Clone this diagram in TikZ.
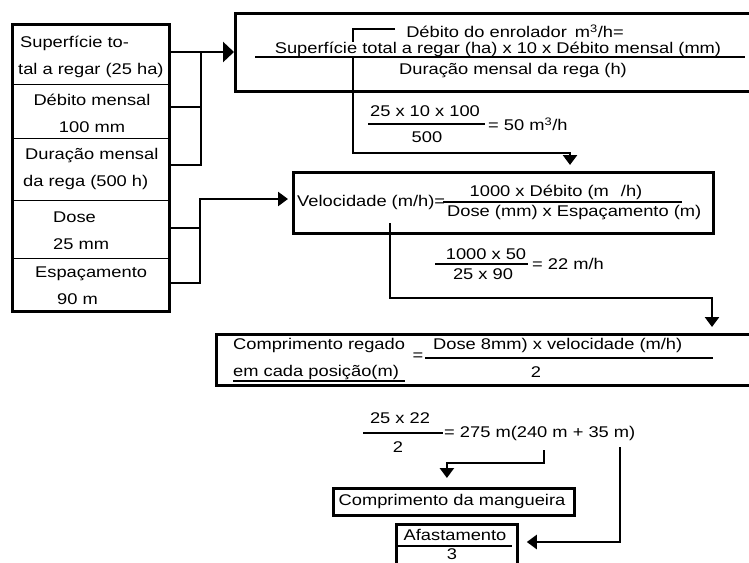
\documentclass[tikz,border=0pt]{standalone}
\usepackage{fontspec}
\setmainfont{Liberation Sans}[FakeStretch=1.18]
\usetikzlibrary{arrows.meta,calc}
\begin{document}
\begin{tikzpicture}[x=1pt,y=-1pt,
  every node/.style={font=\fontsize{15.5}{27}\selectfont, inner sep=0pt},
  thickbox/.style={draw, line width=2.8pt},
  thinbox/.style={draw, line width=1.2pt},
  conn/.style={line width=2.6pt},
  arr/.style={conn, -{Triangle[width=14pt,length=10pt]}},
  bigarr/.style={conn, -{Triangle[width=20pt,length=11pt]}},
  fbar/.style={line width=1.2pt},
]
\useasboundingbox (0,0) rectangle (749,562);
\clip (0,0) rectangle (749,562);

% ---- left column
\node[thinbox, anchor=north west, minimum width=157, minimum height=61] (r1) at (11,23) {};
\node[thinbox, anchor=north west, minimum width=157, minimum height=54] (r2) at (11,84) {};
\node[thinbox, anchor=north west, minimum width=157, minimum height=62] (r3) at (11,138) {};
\node[thinbox, anchor=north west, minimum width=157, minimum height=58] (r4) at (11,200) {};
\node[thinbox, anchor=north west, minimum width=157, minimum height=52] (r5) at (11,258) {};
\node[thickbox, anchor=north west, minimum width=157, minimum height=287] (col) at (11,23) {};

\node[anchor=west, align=left] (t1) at (18,56.5) {\hspace*{2pt}Superfície to-\\tal a regar (25 ha)};
\node[align=center] (t2) at (92,113.5) {Débito mensal\\100 mm};
\node[anchor=west, align=left] (t3) at (23,169) {\hspace*{2pt}Duração mensal\\da rega (500 h)};
\node[anchor=west, align=left] (t4) at (53,231) {Dose\\25 mm};
\node[anchor=west, align=left] (t5) at (35,286) {Espaçamento\\\hspace*{22pt}90 m};

% ---- main boxes
\node[thickbox, anchor=north west, minimum width=530, minimum height=78] (b2) at (234,12) {};
\node[thickbox, anchor=north west, minimum width=420, minimum height=61] (vel) at (292,171) {};
\node[thickbox, anchor=north west, minimum width=550, minimum height=51] (comp) at (215,333) {};
\node[thickbox, anchor=north west, minimum width=241, minimum height=27] (mang) at (332,487) {};
\node[thickbox, anchor=north west, minimum width=121, minimum height=60] (afast) at (395,523) {};

% ---- connectors from the left column
\draw[conn] (r1.east |- 0,52) -| (201,165) -- (r3.east |- 0,165);
\draw[conn] (r2.east |- 0,107) -- (201,107);
\draw[bigarr] (201,52) -- (b2.west |- 0,52);
\draw[conn] (r4.east |- 0,228) -- (200,228);
\draw[arr, shorten >=4pt] (r5.east |- 0,283) -| (200,199) -- (vel.west |- 0,199);

% ---- box 2 content
\node (tdeb) at (515,31) {Débito do enrolador\hspace{8pt}m\textsuperscript{3}/h=};
\coordinate (c1s) at (395,29);
\draw[arr] (c1s) -- (353,29) -- (353,153) -| ($(vel.north west)+(278,-6)$);
\node[fill=white] (tsup) at (498,49) {Superfície total a regar (ha) x 10 x Débito mensal (mm)};
\draw[fbar] (255,57) -- (745,57);
\node (tdur) at (513,71) {Duração mensal da rega (h)};

% ---- calc 1
\node (n1) at (425,111) {25 x 10 x 100};
\draw[fbar] (368,124) -- (485,124);
\node (d1) at (427,137) {500};
\node[anchor=west] (e1) at (488,124) {= 50 m\textsuperscript{3}/h};

% ---- velocidade
\node[anchor=west] (tvel) at (297,202) {Velocidade (m/h)=};
\node (tvn) at (556,192) {1000 x Débito (m\hspace{12pt}/h)};
\draw[fbar] (443,202) -- (682,202);
\node[anchor=west] (tvd) at (447,213) {Dose (mm) x Espaçamento (m)};
\coordinate (c3s) at (390,223);
\draw[arr] (c3s) -- (390,298) -| ($(comp.north west)+(497,-6)$);

% ---- calc 2
\node (n2) at (486,254) {1000 x 50};
\draw[fbar] (435,264) -- (528,264);
\node (d2) at (483,274) {25 x 90};
\node[anchor=west] (e2) at (532,264) {= 22 m/h};

% ---- comprimento regado
\node[anchor=west] (tc1) at (233,345) {Comprimento regado};
\node[anchor=west] (tc2) at (233,373) {em cada posição(m)};
\draw[fbar] (233,381) -- (405,381);
\node (teq) at (418,357) {=};
\node[anchor=west] (tcn) at (433,345) {Dose 8mm) x velocidade (m/h)};
\draw[fbar] (425,358) -- (713,358);
\node (tcd) at (536,372) {2};

% ---- calc 3
\node (n3) at (400,418) {25 x 22};
\draw[fbar] (363,433) -- (443,433);
\node (d3) at (398,447) {2};
\node[anchor=west] (e3) at (444,433) {= 275 m(240 m + 35 m)};

\coordinate (c5s) at (544,450);
\draw[arr] (c5s) -- (544,463) -| ($(mang.north)+(-7,-9)$);
\coordinate (c6s) at (620,447);
\draw[arr] (c6s) |- ($(afast.north east)+(8,19)$);

% ---- bottom boxes
\node (tm) at (452,501) {Comprimento da mangueira};
\node (ta) at (455,535) {Afastamento};
\draw[fbar] (398,546) -- (512,546);
\node (ta3) at (452,554) {3};
\end{tikzpicture}
\end{document}
